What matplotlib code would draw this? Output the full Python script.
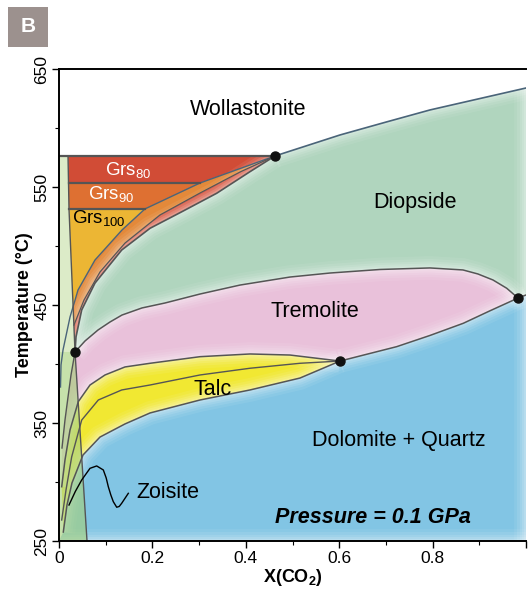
import numpy as np
import matplotlib.pyplot as plt
from matplotlib.patches import Rectangle

plt.rcParams['font.family'] = ['Liberation Sans', 'DejaVu Sans']
plt.rcParams['mathtext.fontset'] = 'custom'
plt.rcParams['mathtext.rm'] = 'Liberation Sans'
plt.rcParams['mathtext.bf'] = 'Liberation Sans:bold'

# boundaries: X(CO2) and T (deg C)
wo_di_x = [0.4625, 0.6017, 0.70, 0.7944, 1.0]
wo_di_t = [576.3, 594.1, 605.0, 615.3, 633.9]

# Grs100 / Di side (continues down near X=0)
c1_x = [0.4625, 0.302, 0.184, 0.135, 0.077, 0.0407, 0.0236, 0.0086, 0.0043, 0.0032]
c1_t = [576.3, 553.4, 531.4, 513.6, 488.1, 462.7, 439.8, 411.9, 399.2, 380.5]

c2_x = [0.4625, 0.3876, 0.3019, 0.2163, 0.1413, 0.0878, 0.0535, 0.032]
c2_t = [576.3, 562.7, 544.9, 526.3, 502.5, 478.0, 454.2, 433.0]

c3_x = [0.4625, 0.409, 0.3377, 0.2662, 0.1949, 0.1343, 0.0771, 0.0486, 0.0364, 0.0343]
c3_t = [576.3, 563.0, 544.7, 529.7, 515.0, 496.6, 468.6, 445.8, 423.0, 410.2]

# left boundary of the garnet fields
lb_x = [0.0193, 0.0214, 0.0343, 0.060]
lb_t = [576.3, 531.4, 410.2, 250.0]

grs_top_t = 576.3
grs_80_90_t = 553.4
grs_90_100_t = 531.4

# tremolite upper boundary
trtop_x = [0.0343, 0.0557, 0.0835, 0.1092, 0.1349, 0.1777, 0.227, 0.3019, 0.3876,
           0.4946, 0.5803, 0.6874, 0.7944, 0.865, 0.897, 0.9293, 0.9587, 0.9829]
trtop_t = [410.2, 419.5, 428.8, 435.6, 441.5, 447.5, 451.7, 459.3, 466.9,
           473.7, 477.1, 480.1, 481.4, 479.7, 476.3, 471.2, 464.2, 455.9]

# tremolite lower boundary
trbot_x = [0.6017, 0.7231, 0.7944, 0.8657, 0.9229, 0.9829]
trbot_t = [402.5, 414.7, 424.2, 434.5, 445.1, 455.9]
di_dol_x = [0.9829, 1.0]
di_dol_t = [455.9, 458.5]

l1_x = [0.0343, 0.0257, 0.0193, 0.0128, 0.0064]
l1_t = [410.2, 390.7, 372.0, 352.5, 328.8]

talctop_x = [0.0058, 0.0128, 0.0236, 0.0413, 0.0664, 0.0985, 0.1413, 0.1949,
             0.3019, 0.409, 0.4946, 0.6017]
talctop_t = [296.0, 318.6, 344.1, 368.1, 382.2, 390.7, 397.5, 400.6,
             406.2, 408.5, 407.6, 402.5]

talcmid_x = [0.0058, 0.015, 0.0272, 0.0486, 0.0842, 0.1343, 0.1949, 0.3019,
             0.409, 0.516, 0.6017]
talcmid_t = [267.8, 293.2, 321.4, 352.5, 369.5, 378.0, 382.2, 390.7,
             396.4, 400.6, 402.5]

talcbot_x = [0.0092, 0.0171, 0.0278, 0.0514, 0.0878, 0.1413, 0.1949, 0.3019,
             0.409, 0.516, 0.6017]
talcbot_t = [257.6, 280.5, 299.2, 322.9, 338.1, 349.2, 358.5, 369.5,
             378.0, 388.1, 402.5]

zo_x = [0.0214, 0.035, 0.0486, 0.0664, 0.0807, 0.0949, 0.1010, 0.1056, 0.1110,
        0.1163, 0.1236, 0.1290, 0.1343, 0.1484]
zo_t = [280.5, 292.0, 301.7, 311.6, 313.6, 310.2, 303.5, 296.0, 289.0,
        283.3, 278.6, 279.3, 282.0, 290.4]

inv_x = [0.4625, 0.0343, 0.9829, 0.6017]
inv_t = [576.3, 410.2, 455.9, 402.5]

fig = plt.figure(figsize=(5.28, 5.89), dpi=100)
ax = fig.add_axes([59 / 528, 48 / 589, 467 / 528, 472 / 589])
ax.set_xlim(0, 1)
ax.set_ylim(250, 650)


def fill(xs, ts, color, z=1, alpha=1.0):
    ax.fill(xs, ts, color=color, lw=0, zorder=z, alpha=alpha)


# Dolomite + Quartz
fill([0] + talcbot_x + trbot_x[1:] + [1.0, 1.0],
     [250] + talcbot_t + trbot_t[1:] + [458.5, 250], '#82c5e4')
# Talc
fill(talctop_x + talcbot_x[::-1], talctop_t + talcbot_t[::-1], '#f1e832')
# Tremolite
fill(trtop_x + trbot_x[::-1][1:] + talctop_x[::-1][1:] + l1_x[::-1],
     trtop_t + trbot_t[::-1][1:] + talctop_t[::-1][1:] + l1_t[::-1], '#e9c1da')
# Diopside
fill(wo_di_x + [1.0] + trtop_x[::-1] + c3_x[::-1][1:],
     wo_di_t + [458.5] + trtop_t[::-1] + c3_t[::-1][1:], '#b0d5be')
# garnet fields
fill([0.0193, 0.4625, 0.302, 0.0205], [grs_top_t, grs_top_t, grs_80_90_t, grs_80_90_t], '#d14c36')
fill([0.0205, 0.302, 0.184, 0.0214], [grs_80_90_t, grs_80_90_t, grs_90_100_t, grs_90_100_t], '#de7032')
fill([0.0214] + c1_x[2:6] + [0.0301], [grs_90_100_t] + c1_t[2:6] + [450.0], '#ecb634')
fill(c1_x[:6] + [0.0301] + c2_x[::-1], c1_t[:6] + [450.0] + c2_t[::-1], '#e3893a')
fill(c2_x + [0.0343] + c3_x[::-1][1:], c2_t + [410.2] + c3_t[::-1][1:], '#d4472f')

# soft light rims along the field boundaries
for xs, ts in [(wo_di_x, wo_di_t), (trtop_x + di_dol_x, trtop_t + di_dol_t),
               (trbot_x, trbot_t), (talctop_x, talctop_t), (talcbot_x, talcbot_t),
               (c3_x, c3_t), ([1.0, 1.0], [250, 634]), ([0, 1], [250, 250])]:
    for lw, a in [(17, 0.07), (13, 0.09), (9.5, 0.11), (6.5, 0.13), (3.5, 0.16)]:
        ax.plot(xs, ts, color='white', lw=lw, alpha=a, zorder=2,
                solid_capstyle='butt', solid_joinstyle='round')

# zoisite strip near X(CO2) = 0
fill([0, 0, 0.0193, 0.0214, 0.0343], [410.2, grs_top_t, grs_top_t, grs_90_100_t, 410.2],
     '#dcebc8', z=3)
fill([0, 0, 0.0343, 0.060], [250, 410.2, 410.2, 250], '#a4cf78', z=3, alpha=0.62)

grey = '#555555'
blue = '#4a6479'
kw = dict(zorder=4, solid_joinstyle='round')
ax.plot(wo_di_x, wo_di_t, color=blue, lw=1.2, **kw)
ax.plot(c1_x, c1_t, color=blue, lw=1.0, **kw)
ax.plot(c2_x, c2_t, color=grey, lw=0.9, **kw)
ax.plot(c3_x, c3_t, color=grey, lw=1.2, **kw)
ax.plot(lb_x, lb_t, color=grey, lw=1.0, **kw)
ax.plot([0, 0.4625], [grs_top_t, grs_top_t], color=grey, lw=1.6, **kw)
ax.plot([0.0205, 0.302], [grs_80_90_t, grs_80_90_t], color=grey, lw=1.6, **kw)
ax.plot([0.0214, 0.184], [grs_90_100_t, grs_90_100_t], color=grey, lw=1.6, **kw)
ax.plot(trtop_x + di_dol_x[1:], trtop_t + di_dol_t[1:], color=grey, lw=1.1, **kw)
ax.plot(trbot_x, trbot_t, color=grey, lw=1.1, **kw)
ax.plot(l1_x, l1_t, color=grey, lw=1.0, **kw)
ax.plot(talctop_x, talctop_t, color=grey, lw=1.1, **kw)
ax.plot(talcmid_x, talcmid_t, color=grey, lw=1.0, **kw)
ax.plot(talcbot_x, talcbot_t, color=grey, lw=1.1, **kw)
ax.plot(zo_x, zo_t, color='black', lw=1.0, **kw)
ax.plot(inv_x, inv_t, 'o', color='#111111', ms=6.5, zorder=5)

lab = dict(fontsize=15.5, ha='center', va='baseline', zorder=6)
ax.text(0.4054, 611.0, 'Wollastonite', **lab)
ax.text(0.762, 532.2, 'Diopside', **lab)
ax.text(0.548, 439.8, 'Tremolite', **lab)
ax.text(0.3287, 373.7, 'Talc', **lab)
ax.text(0.728, 330.5, 'Dolomite + Quartz', **lab)
ax.text(0.234, 286.4, 'Zoisite', **lab)
ax.text(0.673, 265.3, 'Pressure = 0.1 GPa', fontsize=15.5, ha='center', va='baseline',
        fontweight='bold', fontstyle='italic', zorder=6)
ax.text(0.0985, 559.3, r'Grs$_{\mathrm{80}}$', fontsize=13.5, color='white', va='baseline', zorder=6)
ax.text(0.0627, 539.0, r'Grs$_{\mathrm{90}}$', fontsize=13.5, color='white', va='baseline', zorder=6)
ax.text(0.0272, 518.6, r'Grs$_{\mathrm{100}}$', fontsize=13.5, color='black', va='baseline', zorder=6)

ax.set_xticks([0, 0.2, 0.4, 0.6, 0.8, 1.0])
ax.set_xticklabels(['0', '0.2', '0.4', '0.6', '0.8', ''])
ax.set_xticks(np.arange(0.1, 1.0, 0.2), minor=True)
ax.set_yticks([250, 350, 450, 550, 650])
ax.set_yticks([300, 400, 500, 600], minor=True)
ax.tick_params(labelsize=12.5, length=5, width=1, pad=2)
ax.tick_params(which='minor', length=3, width=0.8)
plt.setp(ax.get_yticklabels(), rotation=90, va='center')
ax.spines['right'].set_visible(False)
for s in ['left', 'top', 'bottom']:
    ax.spines[s].set_linewidth(1.4)
    ax.spines[s].set_zorder(7)

ax.set_xlabel(r'X(CO$_{\mathbf{2}}$)', fontsize=13, fontweight='bold', labelpad=1)
ax.set_ylabel('Temperature (\u00b0C)', fontsize=13, fontweight='bold', labelpad=1)

fig.add_artist(Rectangle((8 / 528, 1 - 47 / 589), 40 / 528, 40 / 589,
                         transform=fig.transFigure, color='#9c918e', lw=0))
fig.text(28 / 528, 1 - 27 / 589, 'B', color='white', fontsize=15, fontweight='bold',
         ha='center', va='center')

fig.savefig('out.png', dpi=100)
